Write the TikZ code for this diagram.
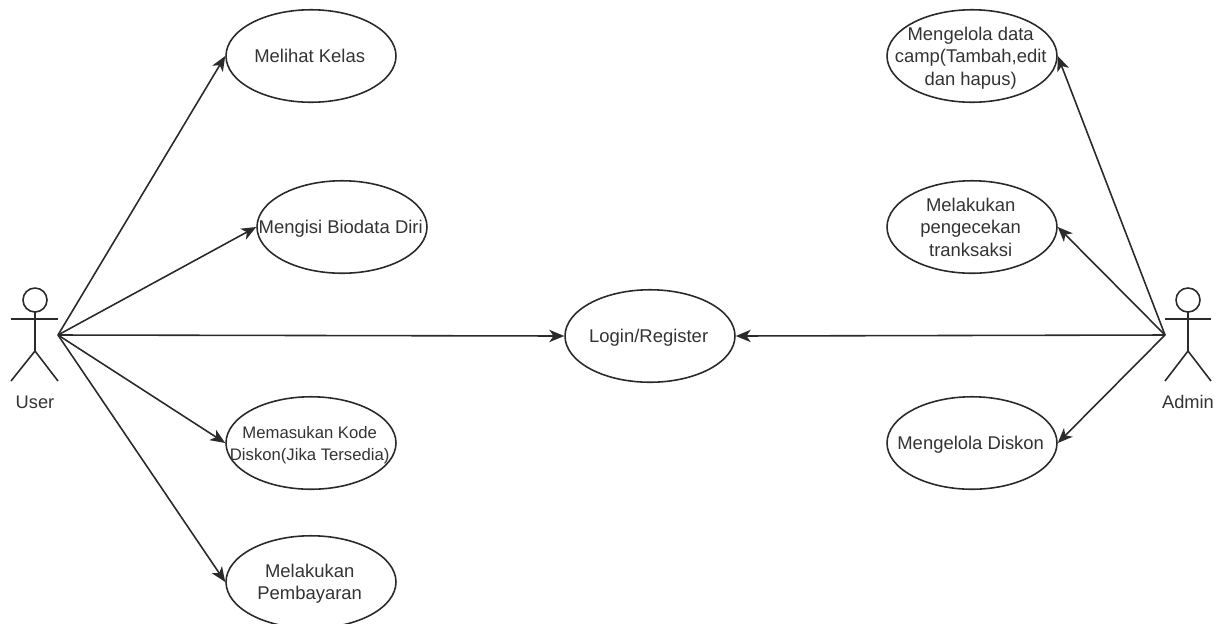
\documentclass[tikz,border=0pt]{standalone}
\usepackage{fontspec}
\setmainfont{Liberation Sans}
\usetikzlibrary{arrows.meta,positioning,shapes.geometric}

\definecolor{inkline}{HTML}{2A2A2A}
\definecolor{inktext}{HTML}{333333}
\newcommand{\uclabel}[1]{\makebox[0pt]{\smash{\raisebox{-4pt}{\begin{tabular}{@{}c@{}}#1\end{tabular}}}\hspace*{1.5pt}}}

\tikzset{
  usecase/.style={draw=inkline, ellipse, line width=.9pt, minimum width=3.4cm, minimum height=1.85cm,
    inner sep=0pt, text=inktext, font=\fontsize{10.5}{12.8}\selectfont},
  actorlabel/.style={text=inktext, font=\fontsize{10.4}{12.8}\selectfont, inner sep=0pt},
  actorline/.style={draw=inkline, line width=.9pt},
  assoc/.style={draw=inkline, line width=.9pt, -{Stealth[length=8.5pt,width=7pt,inset=2.4pt]}}
}

\begin{document}
\begin{tikzpicture}[x=0.02cm,y=-0.02cm]
        \useasboundingbox (0,0) rectangle (1226,623);

        % user side
        \node[usecase] (melihat) at (311,56) {\uclabel{Melihat Kelas}};
        \node[usecase] (biodata) at (342,227) {\uclabel{Mengisi Biodata Diri}};
        \node[usecase] (diskonkode) at (311,443) {\uclabel{\fontsize{9.5}{12.8}\selectfont Memasukan Kode\\\fontsize{9.5}{12.8}\selectfont Diskon(Jika Tersedia)}};
        \node[usecase] (bayar) at (311,582) {\uclabel{Melakukan\\Pembayaran}};

        % middle
        \node[usecase] (login) at (650,336) {\uclabel{Login/Register}};

        % admin side
        \node[usecase] (kelola) at (972,56) {\uclabel{Mengelola data\\camp(Tambah,edit\\dan hapus)}};
        \node[usecase] (cek) at (972,227) {\uclabel{Melakukan\\pengecekan\\tranksaksi}};
        \node[usecase] (diskon) at (972,443) {\uclabel{Mengelola Diskon}};

        % user figure
        \draw[actorline] (35,300) circle (12);
        \draw[actorline] (35,312) -- (35,351);
        \draw[actorline] (11,319) -- (58,319);
        \draw[actorline] (11,381) -- (35,351) -- (58,381);
        \node[actorlabel] (userlabel) at (35,402) {User};
        \coordinate (userhub) at (58,335);

        % admin figure
        \draw[actorline] (1188,300) circle (12);
        \draw[actorline] (1188,312) -- (1188,351);
        \draw[actorline] (1165,319) -- (1211,319);
        \draw[actorline] (1165,381) -- (1188,351) -- (1211,381);
        \node[actorlabel] (adminlabel) at (1188,402) {Admin};
        \coordinate (adminhub) at (1165,335);

        % associations
        \draw[assoc] (userhub) -- (melihat.west);
        \draw[assoc] (userhub) -- (biodata.west);
        \draw[assoc] (userhub) -- (login.west);
        \draw[assoc] (userhub) -- (diskonkode.west);
        \draw[assoc] (userhub) -- (bayar.west);

        \draw[assoc] (adminhub) -- (kelola.east);
        \draw[assoc] (adminhub) -- (cek.east);
        \draw[assoc] (adminhub) -- (login.east);
        \draw[assoc] (adminhub) -- (diskon.east);
      \end{tikzpicture}
\end{document}
